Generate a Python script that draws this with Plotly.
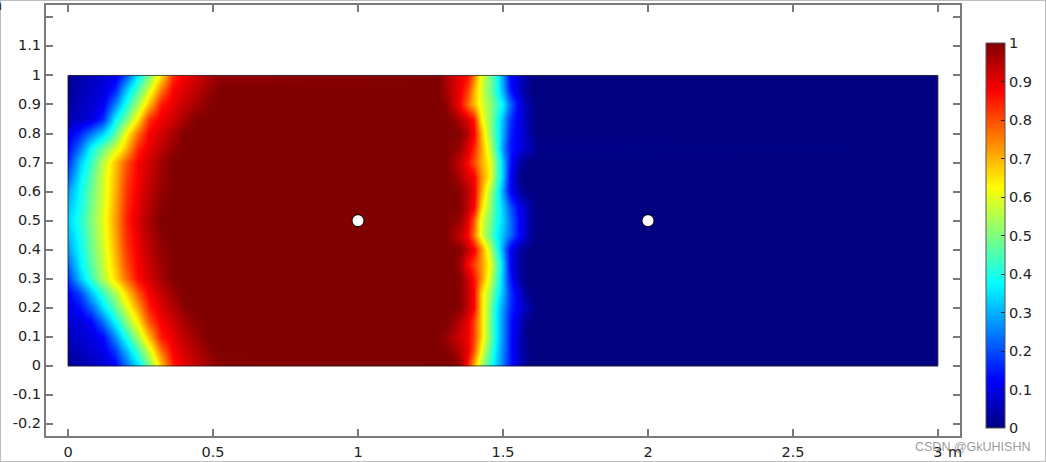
import plotly.graph_objects as go

x_left = [0, 0.001, 0.04, 0.08, 0.12, 0.16, 0.20, 0.24, 0.28, 0.32, 0.36, 0.40, 0.44, 0.48, 0.52]
x_right = [1.275, 1.30, 1.325, 1.35, 1.375, 1.40, 1.425, 1.45, 1.475, 1.50, 1.525, 1.55, 1.575, 1.60, 1.625, 2.999, 3]
y_rows = [0, 0.001, 0.05, 0.10, 0.15, 0.20, 0.25, 0.30, 0.35, 0.40, 0.45, 0.50, 0.55, 0.60, 0.65, 0.70, 0.75, 0.80, 0.85, 0.90, 0.95, 0.999, 1]

z_left_front = [
    [.02, .02, .04, .06, .08, .12, .23, .35, .50, .68, .85, .90, .93, .96, .99],
    [.02, .02, .04, .06, .08, .12, .23, .35, .50, .68, .85, .90, .93, .96, .99],
    [.04, .04, .06, .08, .10, .18, .30, .44, .58, .76, .88, .92, .95, .98, 1],
    [.06, .06, .08, .09, .13, .26, .40, .54, .69, .85, .90, .94, .97, 1, 1],
    [.08, .08, .09, .12, .23, .37, .50, .64, .79, .88, .92, .96, .99, 1, 1],
    [.10, .10, .14, .22, .35, .47, .59, .72, .85, .91, .95, .99, 1, 1, 1],
    [.12, .12, .19, .31, .43, .54, .66, .79, .88, .93, .97, 1, 1, 1, 1],
    [.18, .18, .32, .43, .55, .66, .77, .87, .92, .96, 1, 1, 1, 1, 1],
    [.23, .23, .36, .46, .57, .68, .80, .88, .93, .97, 1, 1, 1, 1, 1],
    [.28, .28, .38, .48, .58, .70, .82, .89, .94, .98, 1, 1, 1, 1, 1],
    [.31, .31, .39, .49, .59, .71, .83, .90, .95, .99, 1, 1, 1, 1, 1],
    [.33, .33, .41, .50, .60, .72, .84, .91, .96, 1, 1, 1, 1, 1, 1],
    [.31, .31, .39, .49, .59, .71, .83, .90, .95, .99, 1, 1, 1, 1, 1],
    [.28, .28, .38, .48, .58, .70, .82, .89, .94, .98, 1, 1, 1, 1, 1],
    [.22, .22, .36, .46, .58, .69, .81, .88, .93, .97, 1, 1, 1, 1, 1],
    [.17, .17, .32, .43, .56, .68, .79, .88, .92, .97, 1, 1, 1, 1, 1],
    [.13, .13, .24, .38, .48, .58, .69, .84, .90, .94, .98, 1, 1, 1, 1],
    [.10, .10, .16, .24, .33, .46, .62, .77, .88, .92, .96, 1, 1, 1, 1],
    [.05, .05, .07, .09, .17, .37, .49, .65, .83, .89, .92, .96, 1, 1, 1],
    [.03, .03, .06, .08, .11, .25, .40, .54, .69, .85, .90, .93, .96, .99, 1],
    [.02, .02, .05, .07, .09, .16, .32, .46, .59, .76, .88, .91, .94, .97, 1],
    [.02, .02, .04, .06, .08, .10, .20, .36, .50, .65, .83, .89, .92, .95, .98],
    [.02, .02, .04, .06, .08, .10, .20, .36, .50, .65, .83, .89, .92, .95, .98],
]

z_right_front = [
    [1, 1, 1, .98, .86, .70, .55, .43, .33, .24, .15, .08, .03, 0, 0, 0, 0],
    [1, 1, 1, .98, .86, .70, .55, .43, .33, .24, .15, .08, .03, 0, 0, 0, 0],
    [1, 1, .98, .94, .90, .79, .61, .47, .35, .25, .15, .07, .02, 0, 0, 0, 0],
    [1, .98, .95, .92, .89, .81, .67, .51, .37, .26, .15, .07, .02, 0, 0, 0, 0],
    [1, 1, .98, .94, .90, .81, .67, .51, .37, .26, .15, .08, .02, 0, 0, 0, 0],
    [1, 1, 1, .99, .94, .87, .67, .52, .37, .27, .17, .11, .06, .02, 0, 0, 0],
    [1, 1, 1, .99, .94, .87, .67, .54, .42, .30, .18, .10, .03, 0, 0, 0, 0],
    [1, 1, 1, .99, .93, .86, .74, .60, .46, .30, .15, .05, .01, 0, 0, 0, 0],
    [1, 1, 1, .97, .88, .81, .73, .63, .48, .31, .13, .04, .01, 0, 0, 0, 0],
    [1, 1, 1, .99, .94, .88, .74, .58, .43, .27, .12, .05, .01, 0, 0, 0, 0],
    [1, 1, .97, .93, .88, .76, .60, .49, .38, .31, .23, .14, .08, .02, 0, 0, 0],
    [1, 1, .99, .97, .91, .79, .60, .51, .41, .33, .24, .14, .08, .02, 0, 0, 0],
    [1, 1, 1, .99, .94, .88, .67, .54, .42, .32, .21, .12, .07, .02, 0, 0, 0],
    [1, 1, 1, .99, .95, .89, .72, .56, .43, .27, .13, .05, .01, 0, 0, 0, 0],
    [1, 1, .99, .95, .91, .88, .74, .64, .47, .31, .13, .03, 0, 0, 0, 0, 0],
    [1, 1, .97, .93, .88, .80, .71, .63, .48, .31, .15, .05, .01, 0, 0, 0, 0],
    [1, 1, .99, .97, .91, .84, .72, .58, .44, .26, .15, .11, .07, .04, .01, 0, 0],
    [1, 1, 1, .99, .95, .88, .70, .54, .42, .29, .16, .11, .07, .02, 0, 0, 0],
    [1, 1, .99, .95, .91, .85, .64, .53, .42, .30, .18, .11, .06, .02, 0, 0, 0],
    [1, .99, .94, .87, .78, .69, .60, .53, .45, .36, .23, .12, .06, .02, 0, 0, 0],
    [1, .97, .93, .89, .82, .70, .59, .50, .41, .29, .15, .08, .03, 0, 0, 0, 0],
    [1, .96, .93, .90, .87, .76, .60, .51, .41, .27, .13, .08, .04, .01, 0, 0, 0],
    [1, .96, .93, .90, .87, .76, .60, .51, .41, .27, .13, .08, .04, .01, 0, 0, 0],
]

point_x = [1, 2]
point_y = [0.5, 0.5]

x_ticks = [0, 0.5, 1, 1.5, 2, 2.5, 3]
x_labels = ["0", "0.5", "1", "1.5", "2", "2.5", "3"]
y_ticks = [-0.2, -0.1, 0, 0.1, 0.2, 0.3, 0.4, 0.5, 0.6, 0.7, 0.8, 0.9, 1, 1.1, 1.2]
y_labels = ["-0.2", "-0.1", "0", "0.1", "0.2", "0.3", "0.4", "0.5", "0.6", "0.7", "0.8", "0.9", "1", "1.1", ""]
bar_ticks = [0, 0.1, 0.2, 0.3, 0.4, 0.5, 0.6, 0.7, 0.8, 0.9, 1]
bar_labels = ["0", "0.1", "0.2", "0.3", "0.4", "0.5", "0.6", "0.7", "0.8", "0.9", "1"]

jet = [
    [0, "rgb(0,0,128)"],
    [0.125, "rgb(0,0,255)"],
    [0.375, "rgb(0,255,255)"],
    [0.625, "rgb(255,255,0)"],
    [0.875, "rgb(255,0,0)"],
    [1, "rgb(128,0,0)"],
]

FONT = "DejaVu Sans"
AXIS = "#7a7a7a"
TEXT = "#222222"

z = [a + b for a, b in zip(z_left_front, z_right_front)]

fig = go.Figure()
fig.add_trace(go.Heatmap(
    x=x_left + x_right, y=y_rows, z=z,
    zmin=0, zmax=1, zsmooth="best", colorscale=jet, hoverinfo="skip",
    colorbar=dict(
        thickness=19, thicknessmode="pixels", len=385, lenmode="pixels",
        x=1.0284, xanchor="left", xpad=0, y=(436 - 235.5) / 431, yanchor="middle", ypad=0,
        outlinecolor="#555555", outlinewidth=1,
        ticks="inside", ticklen=4, tickcolor="#222222", tickwidth=1,
        tickvals=bar_ticks, ticktext=bar_labels,
        tickfont=dict(family=FONT, size=14.5, color=TEXT),
    ),
))
fig.add_trace(go.Scatter(
    x=point_x, y=point_y, mode="markers", hoverinfo="skip", showlegend=False,
    marker=dict(size=12, color="white", line=dict(color="black", width=1)),
))

axis_style = dict(
    showgrid=False, zeroline=False, showline=True, linecolor=AXIS, linewidth=2,
    mirror="ticks", ticks="inside", ticklen=7, tickcolor=AXIS, tickwidth=2,
    tickfont=dict(family=FONT, size=14.5, color=TEXT),
)
fig.update_xaxes(range=[-0.076, 3.076], tickvals=x_ticks, ticktext=x_labels,
                 ticklabelstandoff=2, **axis_style)
fig.update_yaxes(range=[-0.2415, 1.2425], tickvals=y_ticks, ticktext=y_labels,
                 ticklabelshift=-1, **axis_style)

fig.add_shape(type="rect", xref="x", yref="y", x0=0, x1=3, y0=0, y1=1,
              line=dict(color="rgba(30,30,30,0.75)", width=1), fillcolor="rgba(0,0,0,0)")
fig.add_shape(type="rect", xref="paper", yref="paper", x0=-46 / 914, x1=1.0941, y0=-26 / 431, y1=1 + 5 / 431,
              line=dict(color="#bdbdbd", width=2), fillcolor="rgba(0,0,0,0)", layer="below")

fig.add_annotation(xref="paper", yref="paper", x=(955 - 46) / 914, y=-16 / 431, xanchor="center", yanchor="middle",
                   text="m", showarrow=False, font=dict(family=FONT, size=14.5, color=TEXT))
fig.add_annotation(xref="paper", yref="paper", x=-42 / 914, y=1, xanchor="right", yanchor="middle",
                   text="m", showarrow=False, font=dict(family=FONT, size=14.5, color=TEXT))
fig.add_annotation(xref="paper", yref="paper", x=1.079, y=-11 / 431, xanchor="right", yanchor="middle",
                   text="CSDN @GkUHISHN", showarrow=False,
                   font=dict(family="Liberation Sans", size=12.5, color="rgba(120,120,120,0.75)"))

fig.update_layout(
    width=1046, height=462, margin=dict(l=46, r=86, t=5, b=26, autoexpand=False),
    paper_bgcolor="white", plot_bgcolor="white", showlegend=False,
)
fig.write_html("out.html", post_script="document.body.style.margin='0';",
               config=dict(displayModeBar=False))
